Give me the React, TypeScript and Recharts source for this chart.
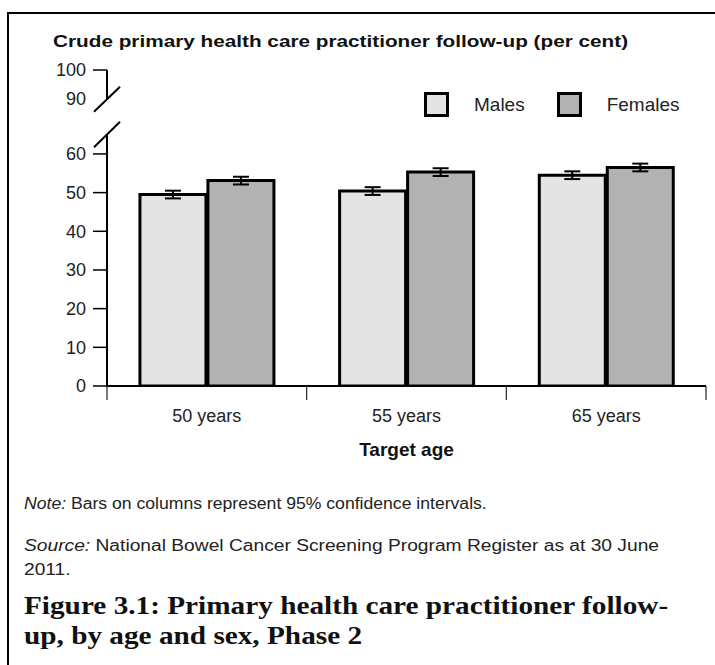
import { BarChart, Bar, XAxis, YAxis, ErrorBar, Legend } from 'recharts'

const ages = ['50 years', '55 years', '65 years']
const males = [49.5, 50.4, 54.5]
const females = [53.1, 55.3, 56.5]
const maleCi = [1.0, 1.0, 1.0]
const femaleCi = [1.0, 1.0, 1.0]

const seriesNames = ['Males', 'Females']
const lowerTicks = [0, 10, 20, 30, 40, 50, 60]
const upperTicks = [90, 100]
// the part above the break is squeezed: where 90 and 100 sit on the axis
const upperTickPos = [74.4, 81.7]

const maleFill = '#e4e4e4'
const femaleFill = '#b2b2b2'
const sans = '"Liberation Sans", Arial, sans-serif'
const serif = '"Liberation Serif", "Times New Roman", serif'

const data = ages.map((age, i) => ({
  age,
  males: males[i],
  females: females[i],
  maleCi: maleCi[i],
  femaleCi: femaleCi[i],
}))

function YTick(props: any) {
  const { x, y, payload } = props
  const i = upperTickPos.indexOf(payload.value)
  const label = i >= 0 ? upperTicks[i] : payload.value
  const isBreak = label === 90
  return (
    <g>
      {!isBreak && <line x1={x - 14} y1={y} x2={x} y2={y} stroke="#000" strokeWidth={1.5} />}
      <text x={x - 21} y={y} dy="0.36em" textAnchor="end" fontSize={18} fontFamily={sans} fill="#222">
        {label}
      </text>
      {isBreak && (
        <g>
          {/* axis break */}
          <rect x={x - 4} y={y + 1} width={8} height={36} fill="#fff" />
          <line x1={x - 13} y1={y + 13.5} x2={x + 13} y2={y - 11.5} stroke="#000" strokeWidth={2} />
          <line x1={x - 13} y1={y + 49} x2={x + 13} y2={y + 23.5} stroke="#000" strokeWidth={2} />
        </g>
      )}
    </g>
  )
}

// category label plus tick marks on the band edges
function XTick(props: any) {
  const { x, y, payload, index, visibleTicksCount } = props
  const half = payload.offset ?? 0
  const last = index === (visibleTicksCount ?? ages.length) - 1
  return (
    <g>
      <line x1={x - half} y1={y} x2={x - half} y2={y + 14} stroke="#222" strokeWidth={1.2} />
      {last && <line x1={x + half} y1={y} x2={x + half} y2={y + 14} stroke="#222" strokeWidth={1.2} />}
      <text x={x} y={y + 23} dy="0.71em" textAnchor="middle" fontSize={18} fontFamily={sans} fill="#222">
        {payload.value}
      </text>
    </g>
  )
}

function LegendBox({ payload }: any) {
  const items = [...(payload ?? [])].sort(
    (a: any, b: any) => seriesNames.indexOf(a.value) - seriesNames.indexOf(b.value),
  )
  return (
    <div style={{ display: 'flex', alignItems: 'center', fontFamily: sans, fontSize: 19, color: '#222' }}>
      {items.map((p: any, i: number) => (
        <span key={p.value} style={{ display: 'flex', alignItems: 'center', marginLeft: i ? 32 : 0 }}>
          <span
            style={{
              width: 19,
              height: 19,
              border: '3px solid #000',
              background: p.color,
              marginRight: 25,
              display: 'inline-block',
            }}
          />
          {p.value}
        </span>
      ))}
    </div>
  )
}

const line = (scale: number): React.CSSProperties => ({
  transform: `scaleX(${scale})`,
  transformOrigin: 'left',
  whiteSpace: 'nowrap',
})

export default function App() {
  return (
    <div
      style={{
        position: 'absolute',
        left: 0,
        top: 0,
        width: 715,
        height: 665,
        overflow: 'hidden',
        background: '#fff',
      }}
    >
      <div
        style={{
          position: 'absolute',
          left: 7,
          top: 12,
          width: 760,
          height: 700,
          borderTop: '2px solid #000',
          borderLeft: '2px solid #000',
        }}
      />
      <div
        style={{
          position: 'absolute',
          left: 53,
          top: 32,
          fontFamily: sans,
          fontWeight: 'bold',
          fontSize: 17,
          color: '#111',
          ...line(1.22),
        }}
      >
        Crude primary health care practitioner follow-up (per cent)
      </div>

      <div style={{ position: 'absolute', left: 0, top: 0 }}>
        <BarChart
          width={715}
          height={470}
          data={data}
          margin={{ top: 70, right: 9, bottom: 9, left: 47 }}
          barCategoryGap="16.5%"
          barGap={2}
        >
          <XAxis
            dataKey="age"
            height={75}
            interval={0}
            axisLine={{ stroke: '#000', strokeWidth: 2 }}
            tickLine={false}
            tickSize={0}
            tickMargin={0}
            tick={<XTick />}
            label={{
              value: 'Target age',
              position: 'insideBottom',
              offset: 5,
              style: { fontSize: 19, fontFamily: sans, fontWeight: 'bold', fill: '#111' },
            }}
          />
          <YAxis
            width={60}
            domain={[0, upperTickPos[1]]}
            ticks={[...lowerTicks, ...upperTickPos]}
            interval={0}
            allowDataOverflow
            tickSize={0}
            tickMargin={0}
            tickLine={false}
            axisLine={{ stroke: '#000', strokeWidth: 2 }}
            tick={<YTick />}
          />
          <Legend
            verticalAlign="middle"
            layout="horizontal"
            content={<LegendBox />}
            wrapperStyle={{ top: 92, left: 424, width: 'auto' }}
          />
          <Bar dataKey="males" name="Males" fill={maleFill} stroke="#000" strokeWidth={3} isAnimationActive={false}>
            <ErrorBar dataKey="maleCi" width={8} stroke="#000" strokeWidth={2} />
          </Bar>
          <Bar
            dataKey="females"
            name="Females"
            fill={femaleFill}
            stroke="#000"
            strokeWidth={3}
            isAnimationActive={false}
          >
            <ErrorBar dataKey="femaleCi" width={8} stroke="#000" strokeWidth={2} />
          </Bar>
        </BarChart>
      </div>

      <div
        style={{
          position: 'absolute',
          left: 24,
          top: 492,
          fontFamily: sans,
          fontSize: 16,
          lineHeight: '24px',
          color: '#222',
        }}
      >
        <div style={line(1.1)}>
          <i>Note:</i> Bars on columns represent 95% confidence intervals.
        </div>
        <div style={{ marginTop: 18, ...line(1.2) }}>
          <i>Source:</i> National Bowel Cancer Screening Program Register as at 30 June
          <br />
          2011.
        </div>
      </div>

      <div
        style={{
          position: 'absolute',
          left: 24,
          top: 591,
          fontFamily: serif,
          fontWeight: 'bold',
          fontSize: 25,
          lineHeight: '30px',
          color: '#111',
          ...line(1.17),
        }}
      >
        Figure 3.1: Primary health care practitioner follow-
        <br />
        up, by age and sex, Phase 2
      </div>
    </div>
  )
}
